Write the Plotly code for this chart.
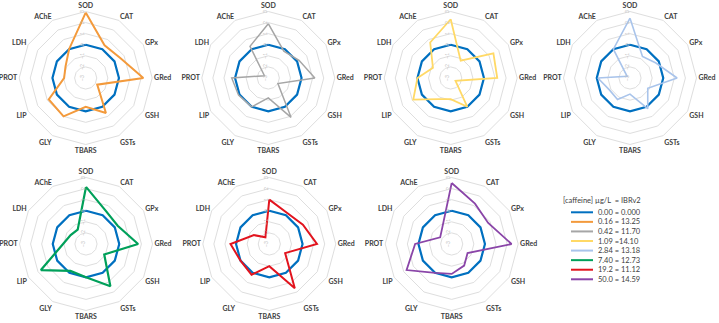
import plotly.graph_objects as go

W, H = 719, 323

categories = ["SOD", "CAT", "GPx", "GRed", "GSH", "GSTs", "TBARS", "GLY", "LIP", "PROT", "LDH", "AChE"]

control_000 = [0.0, 0.0, 0.0, 0.0, 0.0, 0.0, 0.0, 0.0, 0.0, 0.0, 0.0, 0.0]
ibr_016 = [2.9, 0.4, 0.6, 2.2, -1.8, 0.65, -0.4, 1.0, 0.85, -1.05, -0.9, 0.0]
ibr_042 = [1.9, -0.2, 0.2, 1.2, -2.0, 1.1, -1.2, 0.0, 0.1, 0.3, -2.6, 0.3]
ibr_109 = [2.3, -1.2, 1.45, 1.2, -2.5, 0.0, -1.1, -0.8, 0.9, 0.0, -1.15, 0.7]
ibr_284 = [2.4, -0.75, -0.3, 1.25, -1.15, 0.2, -1.55, -0.75, -0.85, -0.1, -2.7, 0.0]
ibr_740 = [2.15, 0.5, 0.3, 1.7, -1.1, 1.4, 0.0, -0.2, 1.7, -0.93, -1.4, -1.5]
ibr_192 = [1.0, 0.23, 0.5, 1.3, -1.35, 1.6, -1.0, 0.2, 0.0, 0.5, -1.4, -2.3]
ibr_500 = [2.5, 1.2, 0.8, 2.4, -1.35, -0.75, -0.3, 0.0, 1.7, 0.3, -1.8, -1.3]

treatments = [ibr_016, ibr_042, ibr_109, ibr_284, ibr_740, ibr_192, ibr_500]

legend_title = "[caffeine] µg/L  = IBRv2"
legend_labels = ["0.00 = 0.000", "0.16 = 13.25", "0.42 = 11.70", "1.09 =14.10",
                 "2.84 = 13.18", "7.40 = 12.73", "19.2 = 11.12", "50.0 = 14.59"]

control_color = "#0070C0"
colors = ["#F39A3C", "#A6A6A6", "#FFD966", "#A9C4EB", "#00A05A", "#E2141E", "#8A45A8"]
widths = [2, 1.5, 1.8, 1.6, 2.2, 2, 1.8]

# subplot centers in pixels
centers = [(85.7, 78.0), (268.3, 78.0), (450.7, 78.0), (630.0, 78.0),
           (86.0, 244.0), (269.3, 244.0), (451.7, 244.0)]
R = 66.5

fig = go.Figure()

def closed(v):
    return list(v) + [v[0]]

theta = closed(categories)

for i, vals in enumerate(treatments):
    pid = "polar" if i == 0 else f"polar{i+1}"
    fig.add_trace(go.Scatterpolar(r=closed(control_000), theta=theta, mode="lines",
                                  line=dict(color=control_color, width=2.2),
                                  subplot=pid, showlegend=False))
    fig.add_trace(go.Scatterpolar(r=closed(vals), theta=theta, mode="lines",
                                  line=dict(color=colors[i], width=widths[i]),
                                  subplot=pid, showlegend=False))
    cx, cy = centers[i]
    polar = dict(
        domain=dict(x=[(cx - R) / W, (cx + R) / W], y=[1 - (cy + R) / H, 1 - (cy - R) / H]),
        gridshape="linear",
        bgcolor="white",
        radialaxis=dict(range=[-3, 3], dtick=1, angle=90, side="counterclockwise",
                        showline=False, ticks="", ticklen=0, gridcolor="#dedede", gridwidth=1,
                        tickfont=dict(size=5, color="#c0c0c0", family="Lato")),
        angularaxis=dict(categoryarray=categories, rotation=90, direction="clockwise",
                         showgrid=False, linecolor="#dedede", linewidth=1, ticks="", ticklen=0,
                         tickfont=dict(size=7, color="#404040", family="Lato", weight="bold")),
    )
    fig.update_layout(**{pid: polar})

# manual legend
shapes = []
annotations = []
annotations.append(dict(x=560.5 / W, y=1 - 200 / H, xref="paper", yref="paper",
                        text=legend_title, showarrow=False, xanchor="left", yanchor="middle",
                        font=dict(size=7.5, color="#404040", family="Lato")))
legend_colors = [control_color] + colors
for j, lab in enumerate(legend_labels):
    yy = 212.3 + j * 9.57
    shapes.append(dict(type="line", xref="paper", yref="paper",
                       x0=571 / W, x1=593 / W, y0=1 - yy / H, y1=1 - yy / H,
                       line=dict(color=legend_colors[j], width=2)))
    annotations.append(dict(x=595.5 / W, y=1 - yy / H, xref="paper", yref="paper",
                            text=lab, showarrow=False, xanchor="left", yanchor="middle",
                            font=dict(size=7.5, color="#404040", family="Lato")))

fig.update_layout(width=W, height=H, margin=dict(l=0, r=0, t=0, b=0),
                  paper_bgcolor="white", plot_bgcolor="white",
                  shapes=shapes, annotations=annotations, showlegend=False)

fig.write_html("out.html", config={"displayModeBar": False},
               post_script="document.body.style.margin='0px';document.body.style.padding='0px';")
